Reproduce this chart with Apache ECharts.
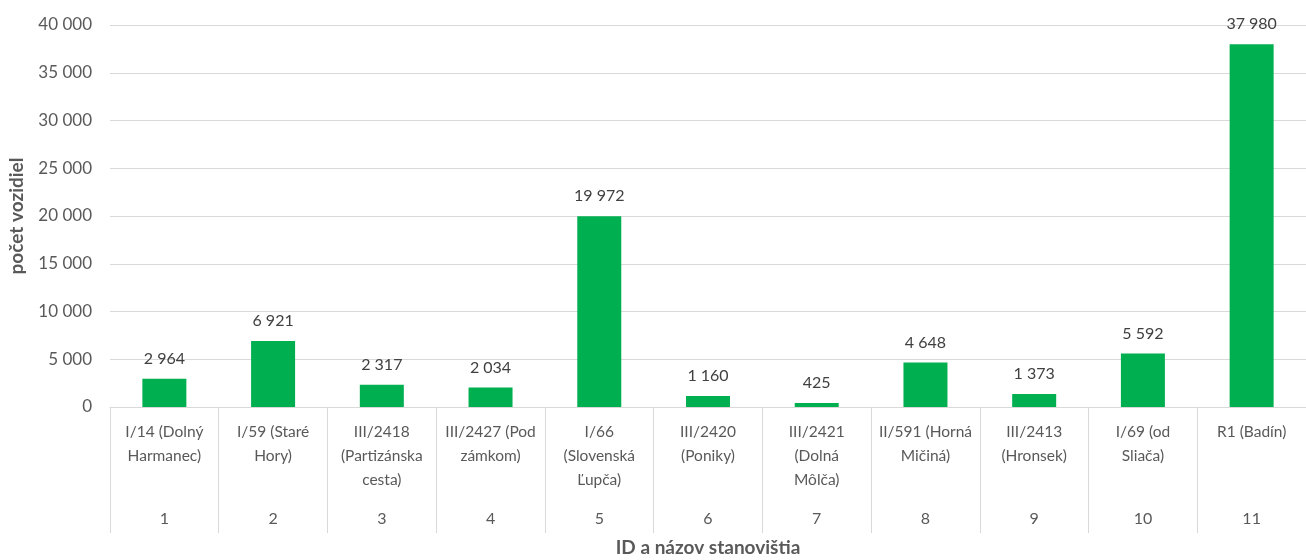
<!DOCTYPE html>
<html>
<head>
<meta charset="utf-8">
<script src="https://cdn.jsdelivr.net/npm/echarts@6/dist/echarts.min.js"></script>
<style>
  html, body { margin: 0; padding: 0; background: #fff; }
  #chart { width: 1306px; height: 560px; }
</style>
</head>
<body>
<div id="chart"></div>
<script>
var names = [
  'I/14 (Dolný\nHarmanec)',
  'I/59 (Staré\nHory)',
  'III/2418\n(Partizánska\ncesta)',
  'III/2427 (Pod\nzámkom)',
  'I/66\n(Slovenská\nĽupča)',
  'III/2420\n(Poniky)',
  'III/2421\n(Dolná\nMôlča)',
  'II/591 (Horná\nMičiná)',
  'III/2413\n(Hronsek)',
  'I/69 (od\nSliača)',
  'R1 (Badín)'
];
var ids = ['1', '2', '3', '4', '5', '6', '7', '8', '9', '10', '11'];
var vehicles = [2964, 6921, 2317, 2034, 19972, 1160, 425, 4648, 1373, 5592, 37980];

function spaced(v) {
  return String(v).replace(/\B(?=(\d{3})+(?!\d))/g, ' ');
}

var chart = echarts.init(document.getElementById('chart'));
var font = 'Lato, "Open Sans", sans-serif';
var option = {
  textStyle: { fontFamily: font },
  grid: { left: 110, right: 0, top: 25, bottom: 153, outerBoundsMode: 'none', containLabel: false },
  xAxis: [
    {
      type: 'category',
      data: names,
      position: 'bottom',
      axisLine: { show: true, lineStyle: { color: '#d9d9d9' } },
      axisTick: { show: true, length: 126, interval: 0, alignWithLabel: false, lineStyle: { color: '#d9d9d9' } },
      axisLabel: {
        interval: 0, color: '#595959', fontSize: 15.5, lineHeight: 24,
        margin: 13, fontFamily: font, verticalAlign: 'top'
      },
      name: 'ID a názov stanovištia',
      nameLocation: 'middle',
      nameGap: 131,
      nameTextStyle: { color: '#595959', fontSize: 19, fontWeight: 'bold', fontFamily: font }
    },
    {
      type: 'category',
      data: ids,
      position: 'bottom',
      axisLine: { show: false },
      axisTick: { show: false },
      axisLabel: { interval: 0, color: '#595959', fontSize: 16, margin: 104, fontFamily: font }
    }
  ],
  yAxis: {
    type: 'value',
    min: 0,
    max: 40000,
    interval: 5000,
    axisLine: { show: false },
    axisTick: { show: false },
    splitLine: { lineStyle: { color: '#d9d9d9' } },
    axisLabel: {
      color: '#595959', fontSize: 17, margin: 18, fontFamily: font,
      formatter: function (v) { return spaced(v); }
    },
    name: 'počet vozidiel',
    nameLocation: 'middle',
    nameGap: 84,
    nameTextStyle: { color: '#595959', fontSize: 19, fontWeight: 'bold', fontFamily: font }
  },
  series: [
    {
      type: 'bar',
      data: vehicles,
      barWidth: 44,
      itemStyle: { color: '#00b050' },
      label: {
        show: true,
        position: 'top',
        distance: 12,
        color: '#404040',
        fontSize: 16,
        fontFamily: font,
        formatter: function (p) { return spaced(p.value); }
      }
    }
  ]
};
chart.setOption(option);
</script>
</body>
</html>
